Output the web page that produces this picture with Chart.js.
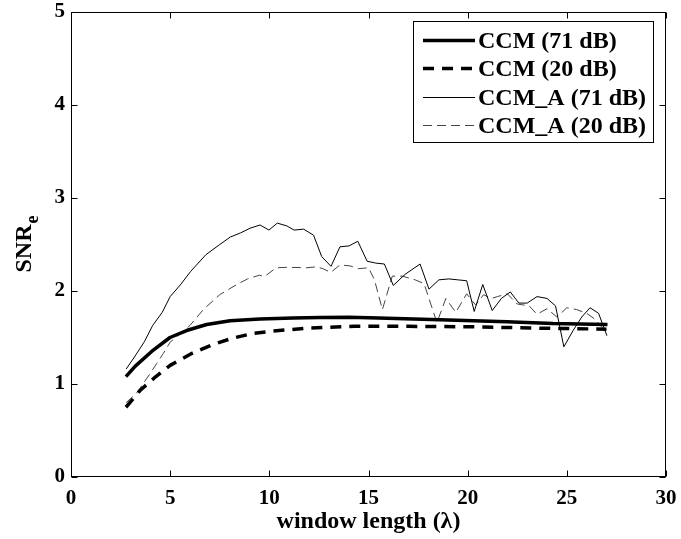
<!DOCTYPE html>
<html><head><meta charset="utf-8">
<script src="https://cdn.jsdelivr.net/npm/chart.js@4"></script>
<style>html,body{margin:0;padding:0;background:#fff;}</style>
</head><body>
<canvas id="c" width="681" height="539"></canvas>
<script>
// ---- data ----
const seriesLabels = ['CCM (71 dB)', 'CCM (20 dB)', 'CCM_A (71 dB)', 'CCM_A (20 dB)'];

const xCCM71 = [2.77, 3.23, 4.15, 4.99, 5.83, 6.84, 8.02, 9.53, 11.2, 12.56, 14.0, 15.5, 18.6, 21.97, 24.3, 27.05];
const yCCM71 = [1.08, 1.19, 1.365, 1.50, 1.575, 1.64, 1.68, 1.70, 1.71, 1.715, 1.717, 1.71, 1.69, 1.67, 1.65, 1.64];

const xCCM20 = [2.77, 3.48, 4.28, 5.0, 6.1, 7.1, 8.1, 9.2, 10.2, 11.9, 14.3, 17.0, 20.3, 23.65, 27.0];
const yCCM20 = [0.75, 0.93, 1.08, 1.20, 1.33, 1.42, 1.49, 1.545, 1.57, 1.60, 1.62, 1.62, 1.615, 1.60, 1.59];

const xA71 = [2.78, 3.23, 3.7, 4.12, 4.6, 5.0, 5.51, 6.03, 6.8, 7.5, 8.03, 8.55, 9.03, 9.53, 9.98, 10.4, 10.88, 11.25, 11.73, 12.23, 12.64, 13.11, 13.56, 14.02, 14.46, 14.93, 15.37, 15.8, 16.25, 16.85, 17.6, 18.05, 18.55, 19.05, 19.5, 19.95, 20.33, 20.76, 21.24, 21.7, 22.15, 22.58, 23.0, 23.5, 24.0, 24.43, 24.85, 25.33, 25.75, 26.17, 26.6, 27.02];
const yA71 = [1.16, 1.30, 1.455, 1.63, 1.77, 1.94, 2.065, 2.21, 2.39, 2.50, 2.58, 2.625, 2.675, 2.71, 2.655, 2.73, 2.70, 2.655, 2.665, 2.60, 2.37, 2.265, 2.475, 2.485, 2.535, 2.32, 2.30, 2.29, 2.06, 2.18, 2.29, 2.02, 2.12, 2.13, 2.12, 2.11, 1.78, 2.07, 1.79, 1.92, 1.99, 1.87, 1.87, 1.94, 1.92, 1.84, 1.40, 1.58, 1.72, 1.82, 1.76, 1.52];

const xA20 = [2.78, 3.3, 3.98, 4.32, 4.66, 5.0, 5.5, 6.0, 6.67, 7.5, 8.36, 8.9, 9.5, 9.75, 10.35, 10.9, 11.9, 12.4, 12.7, 13.1, 13.56, 14.07, 14.5, 15.0, 15.3, 15.7, 16.2, 16.7, 17.35, 17.8, 18.45, 18.9, 19.4, 19.95, 20.4, 20.8, 21.2, 21.5, 22.0, 22.5, 23.1, 23.5, 24.0, 24.5, 25.0, 25.5, 26.0, 26.4, 27.02];
const yA20 = [0.80, 0.90, 1.11, 1.22, 1.33, 1.45, 1.54, 1.63, 1.80, 1.96, 2.07, 2.13, 2.17, 2.155, 2.25, 2.255, 2.25, 2.26, 2.24, 2.20, 2.28, 2.27, 2.24, 2.25, 2.12, 1.80, 2.16, 2.16, 2.12, 2.08, 1.66, 1.92, 1.77, 1.97, 1.85, 1.96, 1.92, 1.94, 1.97, 1.86, 1.84, 1.75, 1.81, 1.72, 1.82, 1.80, 1.76, 1.70, 1.55];

const xRange = [0, 30], xStep = 5;
const yRange = [0, 5], yStep = 1;
const xTitle = 'window length (\u03bb)';
const yTitleMain = 'SNR', yTitleSub = 'e';

// ---- build ----
const pts = (xs, ys) => xs.map((v, i) => ({x: v, y: ys[i]}));
const FONT = '"Liberation Serif", "Times New Roman", serif';

const styles = [
  {borderColor: '#000', borderWidth: 3.5, borderDash: []},
  {borderColor: '#000', borderWidth: 3.5, borderDash: [11, 8]},
  {borderColor: '#000', borderWidth: 1, borderDash: []},
  {borderColor: '#444', borderWidth: 1, borderDash: [9, 5]}
];
const raw = [[xCCM71, yCCM71], [xCCM20, yCCM20], [xA71, yA71], [xA20, yA20]];

const datasets = raw.map((r, i) => Object.assign({
  label: seriesLabels[i],
  data: pts(r[0], r[1]),
  pointRadius: 0,
  fill: false,
  tension: 0,
  borderCapStyle: 'butt',
  borderJoinStyle: 'round'
}, styles[i]));

const framePlugin = {
  id: 'frame',
  afterDraw(chart) {
    const {ctx, chartArea: a, scales: {x, y}} = chart;
    ctx.save();
    ctx.strokeStyle = '#000';
    ctx.lineWidth = 1;
    const L = 6;
    const l = Math.round(a.left) + 0.5, r = Math.round(a.right) - 0.5;
    const t = Math.round(a.top) + 0.5, b = Math.round(a.bottom) - 0.5;
    ctx.beginPath();
    x.ticks.forEach(tk => {
      const px = Math.round(x.getPixelForValue(tk.value)) + 0.5;
      ctx.moveTo(px, b); ctx.lineTo(px, b - L);
      ctx.moveTo(px, t); ctx.lineTo(px, t + L);
    });
    y.ticks.forEach(tk => {
      const py = Math.round(y.getPixelForValue(tk.value)) + 0.5;
      ctx.moveTo(l, py); ctx.lineTo(l + L, py);
      ctx.moveTo(r, py); ctx.lineTo(r - L, py);
    });
    ctx.stroke();
    ctx.strokeRect(l, t, r - l, b - t);

    // y-axis title with subscript
    const cy = (a.top + a.bottom) / 2 + 4;
    ctx.fillStyle = '#000';
    ctx.translate(31, cy);
    ctx.rotate(-Math.PI / 2);
    ctx.font = 'bold 24px ' + FONT;
    ctx.textAlign = 'center';
    ctx.textBaseline = 'alphabetic';
    ctx.fillText(yTitleMain, 0, 0);
    const w = ctx.measureText(yTitleMain).width;
    ctx.font = 'bold 18px ' + FONT;
    ctx.textAlign = 'left';
    ctx.fillText(yTitleSub, w / 2 + 1, 7);
    ctx.restore();

    // legend
    ctx.save();
    const bx = 413.5, by = 21.5, bw = 240, bh = 121;
    ctx.fillStyle = '#fff';
    ctx.fillRect(bx, by, bw, bh);
    ctx.strokeStyle = '#000';
    ctx.lineWidth = 1;
    ctx.strokeRect(bx, by, bw, bh);
    ctx.font = 'bold 24px ' + FONT;
    ctx.textAlign = 'left';
    ctx.textBaseline = 'alphabetic';
    chart.data.datasets.forEach((ds, i) => {
      const base = 48 + i * 28.4;
      const ly = Math.round(base - 8) + 0.5;
      ctx.beginPath();
      ctx.strokeStyle = ds.borderColor;
      ctx.lineWidth = ds.borderWidth;
      ctx.setLineDash(ds.borderDash || []);
      ctx.lineCap = 'butt';
      ctx.moveTo(423, ly); ctx.lineTo(475, ly);
      ctx.stroke();
      ctx.setLineDash([]);
      ctx.fillStyle = '#000';
      ctx.fillText(ds.label, 478, base);
    });
    ctx.restore();
  }
};

new Chart(document.getElementById('c'), {
  type: 'line',
  data: {datasets},
  options: {
    responsive: false,
    animation: false,
    devicePixelRatio: 1,
    layout: {padding: {left: 0, top: 12, right: 15, bottom: 0}},
    plugins: {legend: {display: false}, tooltip: {enabled: false}},
    scales: {
      x: {
        type: 'linear', min: xRange[0], max: xRange[1],
        afterFit: s => { s.height = 62; s.paddingLeft = 0; s.paddingRight = 0; },
        ticks: {stepSize: xStep, color: '#000', font: {family: FONT, size: 21, weight: 'bold'}, padding: 9, maxRotation: 0},
        grid: {display: false, drawTicks: false},
        border: {display: false},
        title: {display: true, text: xTitle, color: '#000', font: {family: FONT, size: 24, weight: 'bold'}, padding: {top: 0, bottom: 3}}
      },
      y: {
        type: 'linear', min: yRange[0], max: yRange[1],
        afterFit: s => { s.width = 71; s.paddingTop = 0; s.paddingBottom = 0; },
        ticks: {stepSize: yStep, color: '#000', font: {family: FONT, size: 21, weight: 'bold'}, padding: 6},
        grid: {display: false, drawTicks: false},
        border: {display: false}
      }
    }
  },
  plugins: [framePlugin]
});
</script>
</body></html>
